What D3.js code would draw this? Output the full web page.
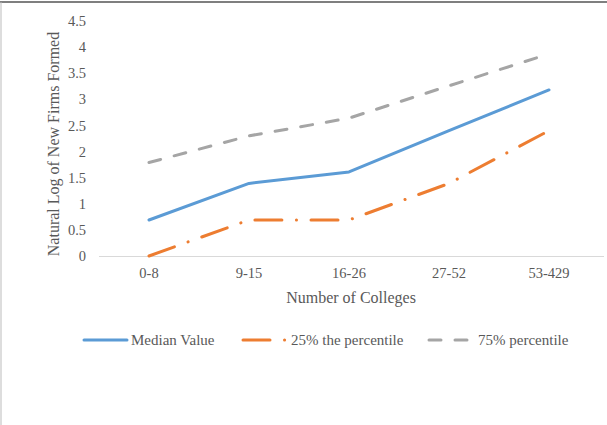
<!DOCTYPE html>
<html><head><meta charset="utf-8">
<script src="https://cdn.jsdelivr.net/npm/d3@7"></script>
<style>body{margin:0;background:#fff}svg{display:block}text{font-family:"Liberation Serif","Times New Roman",serif;fill:#595959}</style>
</head><body>
<script>
const categories = ["0-8","9-15","16-26","27-52","53-429"];
const medianValue = [0.69, 1.39, 1.61, 2.40, 3.18];
const p25 = [0.0, 0.69, 0.69, 1.39, 2.40];
const p75 = [1.79, 2.30, 2.64, 3.26, 3.87];
const yTicks = [0,0.5,1,1.5,2,2.5,3,3.5,4,4.5];
const seriesNames = ["Median Value","25% the percentile","75% percentile"];

const W=607,H=425;
const svg=d3.select("body").append("svg").attr("width",W).attr("height",H);
// frame
svg.append("line").attr("x1",0).attr("x2",W).attr("y1",2).attr("y2",2).attr("stroke","#555").attr("stroke-width",1.5);
svg.append("line").attr("x1",1).attr("x2",1).attr("y1",2).attr("y2",H).attr("stroke","#bbb").attr("stroke-width",1);

const x=d3.scaleBand().domain(categories).range([99,599]);
const y=d3.scaleLinear().domain([0,4.5]).range([256,21]);

// y tick labels
svg.append("g").selectAll("text").data(yTicks).join("text")
  .attr("x",86).attr("y",d=>y(d)).attr("dy","0.35em").attr("text-anchor","end")
  .style("font-size","14.5px").text(d=>d);
// x axis line
svg.append("line").attr("x1",99).attr("x2",604).attr("y1",256.5).attr("y2",256.5).attr("stroke","#d9d9d9").attr("stroke-width",1);
// x tick labels
svg.append("g").selectAll("text").data(categories).join("text")
  .attr("x",d=>x(d)+x.bandwidth()/2).attr("y",278).attr("text-anchor","middle")
  .style("font-size","14.5px").text(d=>d);
// titles
svg.append("text").attr("x",351).attr("y",303).attr("text-anchor","middle").style("font-size","16px").text("Number of Colleges");
svg.append("text").attr("transform","translate(59,144) rotate(-90)").attr("text-anchor","middle").style("font-size","16px").text("Natural Log of New Firms Formed");

const series=[
  {name:seriesNames[0],values:medianValue,color:"#5B9BD5",dash:null},
  {name:seriesNames[1],values:p25,color:"#ED7D31",dash:"27 14.5 0.1 14.5"},
  {name:seriesNames[2],values:p75,color:"#A5A5A5",dash:"12 14"}
];
const line=d3.line().x((d,i)=>x(categories[i])+x.bandwidth()/2).y(d=>y(d));
series.slice().reverse().forEach(s=>{
  svg.append("path").attr("d",line(s.values)).attr("fill","none").attr("stroke",s.color)
    .attr("stroke-width",3).attr("stroke-linecap","round").attr("stroke-linejoin","round")
    .attr("stroke-dasharray",s.dash);
});

// legend
const legX=[84,243,429];
series.forEach((s,i)=>{
  const g=svg.append("g");
  const len = i===0?43:43;
  g.append("line").attr("x1",legX[i]).attr("x2",legX[i]+len).attr("y1",340).attr("y2",340)
    .attr("stroke",s.color).attr("stroke-width",3).attr("stroke-linecap","round").attr("stroke-dasharray",s.dash);
  g.append("text").attr("x",legX[i]+(i===0?47:i===1?48:49)).attr("y",340).attr("dy","0.35em").style("font-size","15px").text(s.name);
});
</script>
</body></html>
